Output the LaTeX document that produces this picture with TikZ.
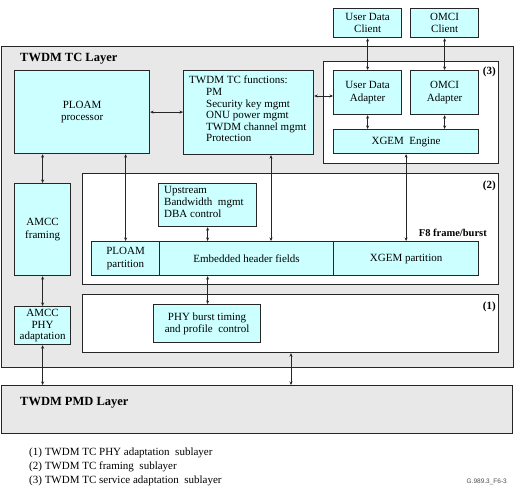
\documentclass[tikz,border=0pt]{standalone}
\usepackage{fontspec}
\setmainfont{Liberation Serif}
\setsansfont{Liberation Sans}
\usetikzlibrary{arrows.meta}
\definecolor{cy}{HTML}{CCFFFF}
\definecolor{lay}{HTML}{E8E8E8}
\definecolor{bd}{HTML}{262626}
\tikzset{
  box/.style={draw=bd, line width=1.2pt, fill=cy, inner sep=0pt, anchor=north west, align=center,
    font=\fontsize{11}{12.5}\selectfont},
  layer/.style={draw=bd, line width=1.2pt, fill=lay, inner sep=0pt, anchor=north west},
  sub/.style={draw=bd, line width=1.2pt, fill=white, inner sep=0pt, anchor=north west},
  dbl/.style={{Stealth[length=3.5pt,width=3pt]}-{Stealth[length=3.5pt,width=3pt]}, line width=0.5pt, draw=bd},
  ttl/.style={font=\fontsize{12.5}{14}\selectfont\bfseries, anchor=west, inner sep=0pt},
  tag/.style={font=\fontsize{11}{12}\selectfont\bfseries, anchor=east, inner sep=0pt},
  leg/.style={font=\fontsize{11}{13.8}\selectfont, anchor=north west, inner sep=0pt, align=left}
}
\begin{document}
\begin{tikzpicture}[x=1pt,y=-1pt]
\useasboundingbox (0,0) rectangle (518,498);
% layers
\node[layer, minimum width=512pt, minimum height=321pt] (tc) at (1,46) {};
\node[ttl] (tctitle) at (20,59) {TWDM TC Layer};
\node[layer, minimum width=511pt, minimum height=48pt] (pmd) at (1,385) {};
\node[ttl] (pmdtitle) at (20,403) {TWDM PMD Layer};
% sublayer boxes
\node[sub, minimum width=175pt, minimum height=102pt] (s3) at (323,61) {};
\node[tag] (t3) at (496,72) {(3)};
\node[sub, minimum width=416pt, minimum height=111pt] (s2) at (82,173) {};
\node[tag] (t2) at (496,186) {(2)};
\node[sub, minimum width=416pt, minimum height=58pt] (s1) at (82,294) {};
\node[tag] (t1) at (496,307) {(1)};
% top clients
\node[box, minimum width=68pt, minimum height=29pt] (udc) at (333,8) {User Data\\Client};
\node[box, minimum width=68pt, minimum height=29pt] (omc) at (410,8) {OMCI\\Client};
% TC layer content
\node[box, minimum width=135pt, minimum height=83pt] (ploam) at (14,70) {PLOAM\\processor};
\node[box, minimum width=130pt, minimum height=84pt] (func) at (183,70) {};
\node[anchor=north west, inner sep=0pt, align=left, font=\fontsize{11}{11.6}\selectfont] (functxt) at (189,76)
  {TWDM TC functions:\\\hspace*{17pt}PM\\\hspace*{17pt}Security key mgmt\\\hspace*{17pt}ONU power mgmt\\\hspace*{17pt}TWDM channel mgmt\\\hspace*{17pt}Protection};
\node[box, minimum width=68pt, minimum height=44pt] (uda) at (333,70) {User Data\\Adapter};
\node[box, minimum width=68pt, minimum height=44pt] (oma) at (410,70) {OMCI\\Adapter};
\node[box, minimum width=145pt, minimum height=24pt] (xeng) at (333,129) {XGEM\ \ Engine};
\node[box, minimum width=56pt, minimum height=92pt] (amccf) at (14,183) {AMCC\\framing};
\node[box, minimum width=56pt, minimum height=38pt, font=\fontsize{11}{11.5}\selectfont] (amccp) at (14,306) {AMCC\\PHY\\adaptation};
\node[box, minimum width=98pt, minimum height=43pt] (ups) at (158,183) {};
\node[anchor=north west, inner sep=0pt, align=left, font=\fontsize{11}{11.8}\selectfont] (upstxt) at (164,186)
  {Upstream\\Bandwidth\ \ mgmt\\DBA control};
\node[font=\fontsize{10.5}{12}\selectfont\bfseries, anchor=south east, inner sep=0pt] (f8) at (487,237) {F8 frame/burst};
\node[box, minimum width=68pt, minimum height=34pt] (ppart) at (91,241) {PLOAM\\partition};
\node[box, minimum width=174pt, minimum height=34pt] (emb) at (159,241) {Embedded header fields};
\node[box, minimum width=145pt, minimum height=34pt] (xpart) at (333,241) {XGEM partition};
\node[box, minimum width=107pt, minimum height=38pt] (phy) at (153,304) {PHY burst timing\\and profile\ \ control};
% connectors
\draw[dbl] (ploam.east) -- (func.west |- ploam.east);
\draw[dbl] (func.east |- 0,96) -- (uda.west |- 0,96);
\draw[dbl] (udc.south) -- (uda.north);
\draw[dbl] (omc.south) -- (oma.north);
\draw[dbl] (uda.south) -- (uda.south |- xeng.north);
\draw[dbl] (oma.south) -- (oma.south |- xeng.north);
\draw[dbl] (amccf.north) -- (amccf.north |- ploam.south);
\draw[dbl] (ploam.south -| ppart.north) -- (ppart.north);
\draw[dbl] (271,0 |- func.south) -- (271,0 |- emb.north);
\draw[dbl] (xeng.south) -- (xpart.north);
\draw[dbl] (ups.south) -- (ups.south |- emb.north);
\draw[dbl] (ups.south |- emb.south) -- (ups.south |- phy.north);
\draw[dbl] (amccf.south) -- (amccp.north);
\draw[dbl] (amccp.south) -- (amccp.south |- pmd.north);
\draw[dbl] (291,0 |- s1.south) -- (291,0 |- pmd.north);
% legend
\node[leg] (legend) at (29,448) {(1) TWDM TC PHY adaptation\ \ sublayer\\(2) TWDM TC framing\ \ sublayer\\(3) TWDM TC service adaptation\ \ sublayer};
\node[font=\sffamily\fontsize{6.5}{8}\selectfont, anchor=east, inner sep=0pt, text=black!70] (fig) at (507,482) {G.989.3\_F6-3};
\end{tikzpicture}
\end{document}
